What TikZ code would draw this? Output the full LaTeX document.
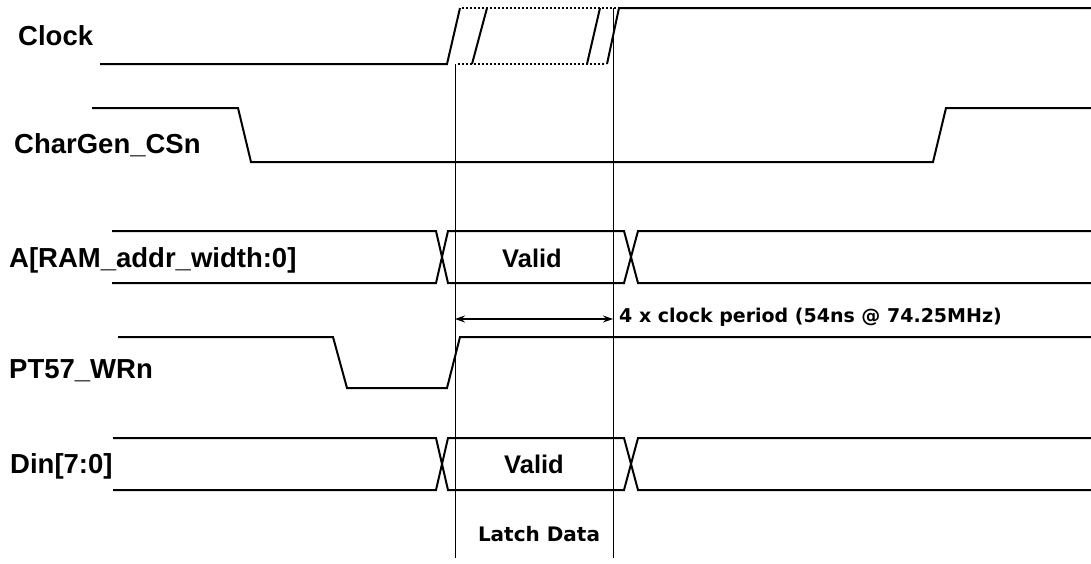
\documentclass[tikz,border=0pt]{standalone}
\usepackage{fontspec}
\setmainfont{Liberation Sans}
\newfontfamily\dvfont{DejaVu Sans}
\usetikzlibrary{arrows.meta}
\begin{document}
\begin{tikzpicture}[x=1pt,y=-1pt,
  sig/.style={line width=2pt, line join=miter},
  dotsig/.style={line width=2pt, dotted},
  guide/.style={line width=1pt},
  lbl/.style={anchor=base west, inner sep=0pt, font=\fontsize{27.5}{30}\selectfont\bfseries},
  vtxt/.style={anchor=base, inner sep=0pt, font=\fontsize{25.5}{28}\selectfont\bfseries},
  note/.style={anchor=base west, inner sep=0pt, font=\dvfont\fontsize{19}{21}\selectfont\bfseries}]
\useasboundingbox[fill=white] (0,0) rectangle (1091,563);
% labels
\node[lbl] (lclk) at (18,45) {Clock};
\node[lbl] (lcs) at (14,153) {CharGen\_CSn};
\node[lbl] (la) at (9,267) {A[RAM\_addr\_width:0]};
\node[lbl] (lwr) at (9,378) {PT57\_WRn};
\node[lbl] (ld) at (10,473) {Din[7:0]};
% guide lines
\coordinate (g1t) at (455,64);
\coordinate (g1b) at (455,558);
\coordinate (g2t) at (613,8);
\coordinate (g2b) at (613,558);
\draw[guide] (g1t) -- (g1b);
\draw[guide] (g2t) -- (g2b);
% clock
\draw[sig] (100,64) -- (447,64) -- (460,8);
\draw[dotsig] (462,8) -- (617,8);
\draw[dotsig] (458,64) -- (606,64);
\draw[sig] (472,64) -- (487,8);
\draw[sig] (587,64) -- (600,8);
\draw[sig] (607,64) -- (619,8) -- (1091,8);
% CharGen_CSn
\draw[sig] (92,108) -- (238,108) -- (251,162) -- (933,162) -- (946,108) -- (1091,108);
% A bus
\draw[sig] (112,231) -- (436,231) -- (448,283) -- (624,283) -- (638,231) -- (1091,231);
\draw[sig] (112,283) -- (436,283) -- (448,231) -- (624,231) -- (638,283) -- (1091,283);
\node[vtxt] (va) at (532,267) {Valid};
% PT57_WRn
\draw[sig] (118,337) -- (333,337) -- (347,388) -- (447,388) -- (460,337) -- (1091,337);
% period arrow
\coordinate (pa) at (455,319);
\coordinate (pb) at (613,319);
\draw[line width=1.3pt, {Stealth[length=10pt,width=7pt]}-{Stealth[length=10pt,width=7pt]}] (pa) -- (pb);
\node[note] (per) at (619,322) {4 x clock period (54ns @ 74.25MHz)};
% Din bus
\draw[sig] (113,438) -- (436,438) -- (448,490) -- (624,490) -- (638,438) -- (1091,438);
\draw[sig] (113,490) -- (436,490) -- (448,438) -- (624,438) -- (638,490) -- (1091,490);
\node[vtxt] (vd) at (534,473) {Valid};
\node[note, anchor=base, font=\dvfont\fontsize{20}{22}\selectfont\bfseries] (latch) at (539,541) {Latch Data};
\end{tikzpicture}
\end{document}
